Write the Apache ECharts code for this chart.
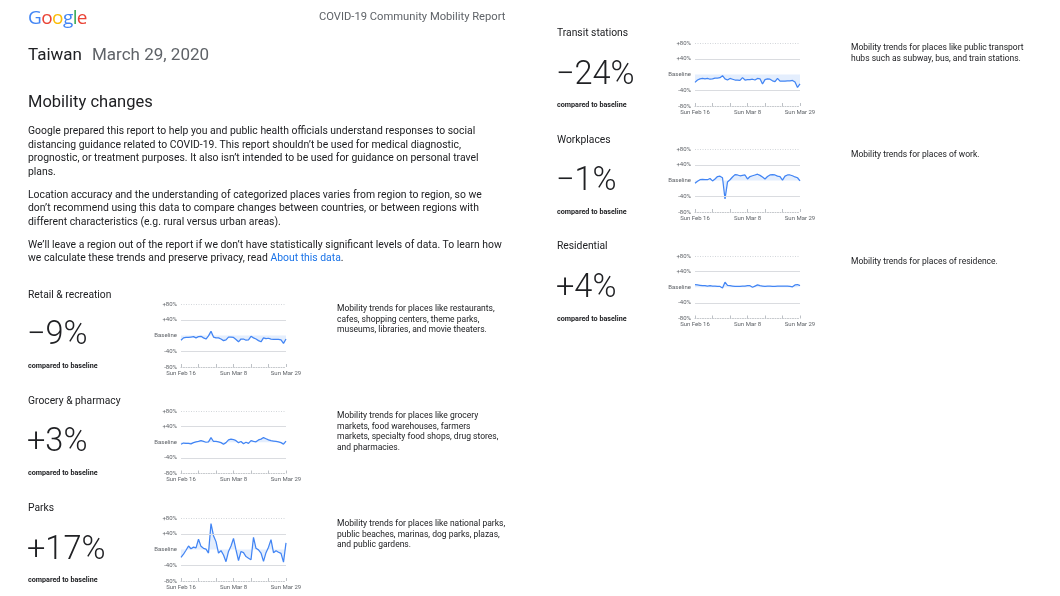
<!DOCTYPE html>
<html>
<head>
<meta charset="utf-8">
<script src="https://cdn.jsdelivr.net/npm/echarts@6/dist/echarts.min.js"></script>
<style>
  html, body { margin: 0; padding: 0; background: #fff; }
  body { width: 1060px; height: 596px; position: relative; overflow: hidden; font-family: Roboto, "Open Sans", sans-serif; color: #202124; }
  #chart { position: absolute; left: 0; top: 0; width: 1060px; height: 596px; }
  .t { position: absolute; white-space: nowrap; pointer-events: none; }
  .logo { left: 28px; top: 5px; font-size: 19px; line-height: 24px; font-family: "Open Sans", Roboto, sans-serif; letter-spacing: -0.6px; }
  .hdr { left: 319px; top: 10px; font-size: 11.2px; line-height: 14px; color: #5f6368; }
  .country { left: 28px; top: 43px; font-size: 17px; line-height: 22px; color: #202124; }
  .date { color: #5f6368; margin-left: 10px; }
  .h2 { left: 28px; top: 91px; font-size: 16.5px; line-height: 22px; color: #202124; }
  .p { left: 28px; font-size: 10.4px; line-height: 13.5px; color: #202124; }
  .link { color: #1a73e8; }
  .cat { font-size: 10.3px; line-height: 14px; color: #202124; }
  .big { font-size: 32.5px; line-height: 36px; font-weight: 300; color: #202124; }
  .cmp { font-size: 7.2px; line-height: 9px; font-weight: 700; color: #202124; }
  .desc { font-size: 8.5px; line-height: 10.5px; color: #202124; }
</style>
</head>
<body>
<div id="chart"></div>
<div id="text"></div>
<script>
// ---------- DATA ----------
const dates = ['Feb 16','Feb 17','Feb 18','Feb 19','Feb 20','Feb 21','Feb 22','Feb 23','Feb 24','Feb 25','Feb 26','Feb 27','Feb 28','Feb 29',
  'Mar 1','Mar 2','Mar 3','Mar 4','Mar 5','Mar 6','Mar 7','Mar 8','Mar 9','Mar 10','Mar 11','Mar 12','Mar 13','Mar 14',
  'Mar 15','Mar 16','Mar 17','Mar 18','Mar 19','Mar 20','Mar 21','Mar 22','Mar 23','Mar 24','Mar 25','Mar 26','Mar 27','Mar 28','Mar 29'];
const xLabelDates = ['Feb 16', 'Mar 8', 'Mar 29'];
const yTickValues = [-80, -40, 0, 40, 80];
const yTickLabels = ['-80%', '-40%', 'Baseline', '+40%', '+80%'];

const retail = [-12,-6,-5,-5,-4,-3,-6,-3,-2,-6,-9,-1,11,-4,-6,-6,-9,-13,-11,-4,-4,-5,-10,-16,-9,-9,-12,-11,-2,-6,-9,-13,-16,-6,-8,-7,-9,-10,-10,-10,-11,-20,-9];
const grocery = [-5,-2,-3,-3,-4,-1,1,2,4,2,0,1,12,2,2,1,-1,-5,-1,6,8,7,4,-1,2,-4,0,-3,4,2,1,6,8,12,9,6,4,3,2,1,-1,-5,3];
const parks = [-20,-12,-2,9,2,6,4,26,8,3,1,-9,66,35,20,-9,-3,-14,-31,-5,9,28,-1,-28,-5,-8,-18,-22,-26,31,3,-1,-9,-30,-8,6,25,-8,-3,-7,-10,-32,17];
const transit = [-20,-14,-11,-10,-11,-10,-12,-11,-9,-9,-8,-3,-11,-14,-10,-12,-14,-14,-15,-8,-14,-13,-13,-12,-14,-10,-11,-24,-13,-11,-12,-16,-18,-10,-17,-17,-17,-16,-16,-15,-19,-33,-24];
const workplaces = [-7,-2,2,3,2,2,5,-1,4,10,11,7,-47,-4,2,9,15,14,12,13,14,4,10,12,14,16,13,9,4,10,14,15,14,11,10,1,11,14,14,12,9,7,-1];
const residential = [7,6,5,4,4,3,4,3,3,2,2,-2,13,5,4,3,2,2,2,3,3,4,4,0,3,6,4,3,2,3,3,2,2,3,3,3,3,3,2,1,6,7,4];

const categoryNames = ['Retail & recreation','Grocery & pharmacy','Parks','Transit stations','Workplaces','Residential'];
const headlineValues = ['−9%','+3%','+17%','−24%','−1%','+4%'];
const descriptions = [
  ['Mobility trends for places like restaurants,','cafes, shopping centers, theme parks,','museums, libraries, and movie theaters.'],
  ['Mobility trends for places like grocery','markets, food warehouses, farmers','markets, specialty food shops, drug stores,','and pharmacies.'],
  ['Mobility trends for places like national parks,','public beaches, marinas, dog parks, plazas,','and public gardens.'],
  ['Mobility trends for places like public transport','hubs such as subway, bus, and train stations.'],
  ['Mobility trends for places of work.'],
  ['Mobility trends for places of residence.']
];
const seriesList = [retail, grocery, parks, transit, workplaces, residential];

// ---------- LAYOUT ----------
const panels = [
  { gx: 181, gy: 304, gh: 63, tx: 28, titleY: 288, bigY: 315, cmpY: 361, dx: 337, dy: 303 },
  { gx: 181, gy: 411, gh: 62.5, tx: 28, titleY: 394, bigY: 422, cmpY: 468, dx: 337, dy: 410 },
  { gx: 181, gy: 518, gh: 63, tx: 28, titleY: 501, bigY: 530, cmpY: 575, dx: 337, dy: 518 },
  { gx: 695, gy: 43, gh: 63, tx: 557, titleY: 26, bigY: 55, cmpY: 100, dx: 851, dy: 42 },
  { gx: 695, gy: 149, gh: 63, tx: 557, titleY: 133, bigY: 161, cmpY: 207, dx: 851, dy: 149 },
  { gx: 695, gy: 256, gh: 62.5, tx: 557, titleY: 239, bigY: 268, cmpY: 314, dx: 851, dy: 256 }
];

// ---------- TEXT ----------
const txt = document.getElementById('text');
function add(cls, left, top, html) {
  const d = document.createElement('div');
  d.className = 't ' + cls;
  if (left !== null) d.style.left = left + 'px';
  if (top !== null) d.style.top = top + 'px';
  d.innerHTML = html;
  txt.appendChild(d);
}
add('logo', null, null, '<span style="color:#4285f4">G</span><span style="color:#ea4335">o</span><span style="color:#fbbc05">o</span><span style="color:#4285f4">g</span><span style="color:#34a853">l</span><span style="color:#ea4335">e</span>');
add('hdr', null, null, 'COVID-19 Community Mobility Report');
add('country', null, null, 'Taiwan<span class="date">March 29, 2020</span>');
add('h2', null, null, 'Mobility changes');
const paraLines = [
  [124, 'Google prepared this report to help you and public health officials understand responses to social'],
  [137.5, 'distancing guidance related to COVID-19. This report shouldn’t be used for medical diagnostic,'],
  [151, 'prognostic, or treatment purposes. It also isn’t intended to be used for guidance on personal travel'],
  [164.5, 'plans.'],
  [187.5, 'Location accuracy and the understanding of categorized places varies from region to region, so we'],
  [201, 'don’t recommend using this data to compare changes between countries, or between regions with'],
  [214.5, 'different characteristics (e.g. rural versus urban areas).'],
  [237.5, 'We’ll leave a region out of the report if we don’t have statistically significant levels of data. To learn how'],
  [251, 'we calculate these trends and preserve privacy, read <span class="link">About this data</span>.']
];
paraLines.forEach(l => add('p', null, l[0], l[1]));

panels.forEach((p, i) => {
  add('cat', p.tx, p.titleY, categoryNames[i]);
  add('big', p.tx - 1, p.bigY, headlineValues[i]);
  add('cmp', p.tx, p.cmpY, 'compared to baseline');
  add('desc', p.dx, p.dy, descriptions[i].join('<br>'));
});

// ---------- CHARTS ----------
const chart = echarts.init(document.getElementById('chart'), null, { renderer: 'canvas' });
const grids = [], xAxes = [], yAxes = [], series = [];
const gridW = 105;
panels.forEach((p, i) => {
  grids.push({ left: p.gx, top: p.gy, width: gridW, height: p.gh, containLabel: false });
  xAxes.push({
    type: 'category', gridIndex: i, data: dates, boundaryGap: false,
    axisLine: { show: true, onZero: false, lineStyle: { color: '#c4c7cb', width: 1, type: [1, 1.5] } },
    axisTick: { show: true, inside: true, length: 3, interval: (idx) => idx % 7 === 0, lineStyle: { color: '#bdc1c6' } },
    axisLabel: {
      show: true, interval: (idx, v) => xLabelDates.indexOf(v) >= 0,
      formatter: (v) => 'Sun ' + v, fontSize: 6, color: '#5f6368', margin: 3, fontFamily: 'Roboto',
      showMaxLabel: true, hideOverlap: false
    },
    splitLine: { show: false }
  });
  yAxes.push({
    type: 'value', gridIndex: i, min: -80, max: 80, interval: 40,
    axisLine: { show: false }, axisTick: { show: false },
    axisLabel: {
      fontSize: 6, color: '#5f6368', margin: 4, fontFamily: 'Roboto',
      formatter: (v) => yTickLabels[yTickValues.indexOf(v)]
    },
    splitLine: { show: false }
  });
  series.push({
    type: 'line', xAxisIndex: i, yAxisIndex: i, data: seriesList[i],
    symbol: 'none', smooth: false, silent: true, animation: false,
    lineStyle: { color: '#4285f4', width: 1.25 },
    areaStyle: { origin: 0, color: 'rgba(66,133,244,0.2)' },
    markLine: {
      silent: true, symbol: 'none', animation: false, label: { show: false },
      data: [
        { yAxis: 80, lineStyle: { color: '#d3d6da', type: [1, 1.5], width: 1 } },
        { yAxis: 40, lineStyle: { color: '#dadce0', type: 'solid', width: 1 } },
        { yAxis: -40, lineStyle: { color: '#dadce0', type: 'solid', width: 1 } }
      ]
    },
    z: 3
  });
});
chart.setOption({ animation: false, grid: grids, xAxis: xAxes, yAxis: yAxes, series: series });
</script>
</body>
</html>
